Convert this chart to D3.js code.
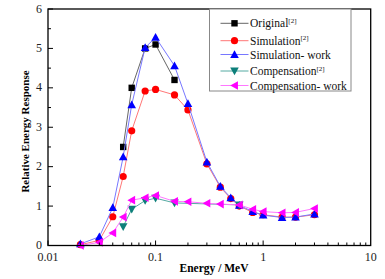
<!DOCTYPE html>
<html>
<head>
<meta charset="utf-8">
<script src="https://cdn.jsdelivr.net/npm/d3@7"></script>
<style>
  body { margin: 0; background: #fff; }
  svg { display: block; }
</style>
</head>
<body>
<div id="chart"></div>
<script>
// energies (MeV) and responses
const origE = [0.05, 0.06, 0.08, 0.1, 0.15];
const origV = [2.5, 4.0, 5.0, 5.1, 4.2];

const simE = [0.02, 0.03, 0.04, 0.05, 0.06, 0.08, 0.1, 0.15, 0.2, 0.3, 0.4, 0.5, 0.6, 0.8, 1, 1.5, 2, 3];
const simV = [0.02, 0.13, 0.73, 1.75, 2.91, 3.92, 3.96, 3.82, 3.44, 2.07, 1.48, 1.19, 1.0, 0.84, 0.78, 0.72, 0.72, 0.78];

const workE = [0.02, 0.03, 0.04, 0.05, 0.06, 0.08, 0.1, 0.15, 0.2, 0.3, 0.4, 0.5, 0.6, 0.8, 1, 1.5, 2, 3];
const workV = [0.04, 0.22, 0.96, 2.25, 3.57, 5.02, 5.28, 4.56, 3.6, 2.12, 1.5, 1.21, 1.02, 0.86, 0.77, 0.71, 0.72, 0.8];

const compE = [0.05, 0.06, 0.08, 0.1, 0.15, 0.6];
const compV = [0.48, 0.92, 1.14, 1.2, 1.08, 1.03];

const compWorkE = [0.02, 0.03, 0.04, 0.05, 0.06, 0.08, 0.1, 0.15, 0.2, 0.3, 0.4, 0.6, 0.8, 1, 1.5, 2, 3];
const compWorkV = [0.0, 0.08, 0.32, 0.72, 1.15, 1.21, 1.27, 1.12, 1.11, 1.07, 1.05, 1.03, 0.92, 0.86, 0.83, 0.84, 0.94];

const xTickLabels = ["0.01", "0.1", "1", "10"];
const yTicks = [0, 1, 2, 3, 4, 5, 6];

const series = [
  { name: "Original", sup: "[2]", e: origE, v: origV, line: "#666666", fill: "#000000", shape: "square" },
  { name: "Simulation", sup: "[2]", e: simE, v: simV, line: "#ff7777", fill: "#ff0000", shape: "circle" },
  { name: "Simulation- work", sup: "", e: workE, v: workV, line: "#7777ff", fill: "#0000ff", shape: "up" },
  { name: "Compensation", sup: "[2]", e: compE, v: compV, line: "#55aaa2", fill: "#0d7f7a", shape: "down" },
  { name: "Compensation- work", sup: "", e: compWorkE, v: compWorkV, line: "#ff77ff", fill: "#ff00ff", shape: "left" }
];

const W = 385, H = 279;
const L = 48, R = 370.7, T = 9, B = 245.5;
const FONT = '"Liberation Serif", "Times New Roman", serif';

const svg = d3.select("#chart").append("svg")
  .attr("width", W).attr("height", H);

const x = d3.scaleLog().domain([0.01, 10]).range([L, R]);
const y = d3.scaleLinear().domain([0, 6]).range([B, T]);

// markers
function marker(g, shape, fill) {
  if (shape === "square") {
    g.append("rect").attr("x", -3.2).attr("y", -3.2).attr("width", 6.4).attr("height", 6.4).attr("fill", fill);
  } else if (shape === "circle") {
    g.append("circle").attr("r", 3.6).attr("fill", fill);
  } else {
    const s = 4.3;
    let pts;
    if (shape === "up") pts = [[0, -s], [s, s * 0.8], [-s, s * 0.8]];
    if (shape === "down") pts = [[0, s], [s, -s * 0.8], [-s, -s * 0.8]];
    if (shape === "left") pts = [[-s, 0], [s * 0.8, -s], [s * 0.8, s]];
    g.append("path").attr("d", "M" + pts.map(p => p.join(",")).join("L") + "Z").attr("fill", fill);
  }
}

const line = d3.line().x(d => x(d[0])).y(d => y(d[1]));

series.forEach(s => {
  const pts = s.e.map((e, i) => [e, s.v[i]]);
  svg.append("path")
    .attr("d", line(pts))
    .attr("fill", "none")
    .attr("stroke", s.line)
    .attr("stroke-width", 1);
  pts.forEach(p => {
    const g = svg.append("g").attr("transform", `translate(${x(p[0])},${y(p[1])})`);
    marker(g, s.shape, s.fill);
  });
});

// frame
svg.append("rect")
  .attr("x", L).attr("y", T).attr("width", R - L).attr("height", B - T)
  .attr("fill", "none").attr("stroke", "#000").attr("stroke-width", 1.3);

// y axis ticks (inward)
const yAxis = svg.append("g");
d3.range(0, 6.01, 0.5).forEach(v => {
  const major = Number.isInteger(v);
  yAxis.append("line")
    .attr("x1", L).attr("x2", L + (major ? 5 : 3))
    .attr("y1", y(v)).attr("y2", y(v))
    .attr("stroke", "#000").attr("stroke-width", 1);
});
yTicks.forEach(v => {
  yAxis.append("text")
    .attr("x", L - 6).attr("y", y(v) + 3.5)
    .attr("text-anchor", "end")
    .style("font-family", FONT).style("font-size", "12px")
    .attr("fill", "#222")
    .text(v);
});

// x axis ticks (log, inward)
const xAxis = svg.append("g");
[0.01, 0.1, 1].forEach(dec => {
  for (let k = 1; k <= 9; k++) {
    const v = dec * k;
    xAxis.append("line")
      .attr("x1", x(v)).attr("x2", x(v))
      .attr("y1", B).attr("y2", B - (k === 1 ? 5 : 3))
      .attr("stroke", "#000").attr("stroke-width", 1);
  }
});
xTickLabels.forEach(t => {
  xAxis.append("text")
    .attr("x", x(+t)).attr("y", B + 15)
    .attr("text-anchor", "middle")
    .style("font-family", FONT).style("font-size", "12px")
    .attr("fill", "#222")
    .text(t);
});

// axis titles
svg.append("text")
  .attr("x", 214).attr("y", 272)
  .attr("text-anchor", "middle")
  .style("font-family", FONT).style("font-size", "11.5px").style("font-weight", "bold")
  .text("Energy / MeV");

svg.append("text")
  .attr("transform", `translate(28.5,131.5) rotate(-90)`)
  .attr("text-anchor", "middle")
  .style("font-family", FONT).style("font-size", "11px").style("font-weight", "bold")
  .text("Relative Energy Response");

// legend
const legRows = [23.3, 40.7, 54.5, 71, 85.5];
const leg = svg.append("g");
leg.append("rect")
  .attr("x", 209.5).attr("y", T).attr("width", 141.5).attr("height", 82)
  .attr("fill", "#fff").attr("stroke", "#888").attr("stroke-width", 1);

series.forEach((s, i) => {
  const ly = legRows[i];
  leg.append("line")
    .attr("x1", 220.5).attr("x2", 248.5).attr("y1", ly).attr("y2", ly)
    .attr("stroke", s.line).attr("stroke-width", 1);
  marker(leg.append("g").attr("transform", `translate(234.5,${ly})`), s.shape, s.fill);
  const t = leg.append("text")
    .attr("x", 250).attr("y", ly + 4)
    .style("font-family", FONT).style("font-size", "11.5px")
    .attr("fill", "#111")
    .text(s.name);
  if (s.sup) {
    t.append("tspan").style("font-size", "7px").attr("dy", -4.5).text(s.sup);
  }
});
</script>
</body>
</html>
